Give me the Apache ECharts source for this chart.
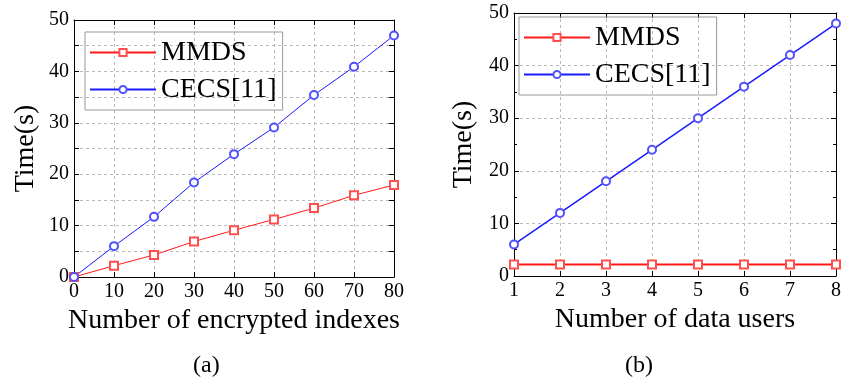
<!DOCTYPE html>
<html>
<head>
<meta charset="UTF-8">
<title>Time comparison</title>
<script src="https://cdn.jsdelivr.net/npm/echarts@6/dist/echarts.min.js"></script>
<style>
  html, body { margin: 0; padding: 0; background: #fff; }
  #main { width: 844px; height: 388px; }
</style>
</head>
<body>
<div id="main"></div>
<script type="text/javascript">
// (a) encrypted indexes
var idxX = [0, 10, 20, 30, 40, 50, 60, 70, 80];
var idxMMDS = [0, 2.2, 4.3, 6.9, 9.1, 11.2, 13.4, 15.9, 17.9];
var idxCECS = [0, 6.0, 11.7, 18.4, 23.9, 29.1, 35.4, 40.9, 47.0];
// (b) data users
var userX = [1, 2, 3, 4, 5, 6, 7, 8];
var userMMDS = [2.2, 2.2, 2.2, 2.2, 2.2, 2.2, 2.2, 2.2];
var userCECS = [6, 12, 18, 24, 30, 36, 42, 48];

var seriesNames = ['MMDS', 'CECS[11]'];
var xNames = ['Number of encrypted indexes', 'Number of data users'];
var captions = ['(a)', '(b)'];

var FONT = '"Liberation Serif", "Times New Roman", serif';
var RED = '#ff1a1a', RED_M = '#ff5050';
var BLUE = '#1a1aff', BLUE_M = '#5050ff';

function pairs(xs, ys) {
    var out = [];
    for (var i = 0; i < xs.length; i++) out.push([xs[i], ys[i]]);
    return out;
}

var myChart = echarts.init(document.getElementById('main'));

function xAx(gi, min, max, interval, mirror) {
    return {
        type: 'value', gridIndex: gi, min: min, max: max, interval: interval,
        position: mirror ? 'top' : 'bottom',
        name: mirror ? '' : xNames[gi], nameLocation: 'middle', nameGap: 28,
        nameTextStyle: { fontFamily: FONT, fontSize: 28, color: '#000' },
        axisLine: { show: true, onZero: false, lineStyle: { color: '#000', width: 1 } },
        axisTick: { show: true, inside: true, length: 5, lineStyle: { color: '#000' } },
        axisLabel: { show: !mirror, fontFamily: FONT, fontSize: 20, color: '#000', margin: 5 },
        splitLine: { show: !mirror, lineStyle: { color: '#bbb', type: [3, 3] } }
    };
}

function yAx(gi, interval, labelEvery, mirror) {
    return {
        type: 'value', gridIndex: gi, min: 0, max: 50, interval: interval,
        position: mirror ? 'right' : 'left',
        name: mirror ? '' : 'Time(s)', nameLocation: 'middle', nameGap: gi === 0 ? 34 : 36,
        nameTextStyle: { fontFamily: FONT, fontSize: 28, color: '#000' },
        axisLine: { show: true, onZero: false, lineStyle: { color: '#000', width: 1 } },
        axisTick: { show: true, inside: true, length: 5, lineStyle: { color: '#000' } },
        minorTick: { show: interval === 10, splitNumber: 2, length: 3, lineStyle: { color: '#000' } },
        axisLabel: {
            show: !mirror, fontFamily: FONT, fontSize: 20, color: '#000', margin: 5,
            formatter: function (v) { return v % labelEvery === 0 ? v : ''; }
        },
        splitLine: { show: !mirror, lineStyle: { color: '#bbb', type: [3, 3] } }
    };
}

function lineSeries(name, gi, data, color, markColor, symbol, width) {
    return {
        name: name, type: 'line', xAxisIndex: gi * 2, yAxisIndex: gi * 2,
        data: data, symbol: symbol, symbolSize: 8, showAllSymbol: true,
        lineStyle: { color: color, width: width },
        itemStyle: { color: markColor, borderWidth: 1 },
        animation: false
    };
}

function legendAt(gi, left, top) {
    return {
        data: seriesNames.map(function (n) { return { name: n }; }),
        orient: 'vertical', left: left, top: top,
        itemWidth: 66, itemHeight: 9, itemGap: 0,
        padding: [2, 6, 2, 4],
        borderColor: '#999', borderWidth: 1,
        textStyle: { fontFamily: FONT, fontSize: 28, color: '#000', lineHeight: 37 },
        selectedMode: false
    };
}

var option = {
    backgroundColor: '#fff',
    animation: false,
    grid: [
        { left: 74, right: 450, top: 20, bottom: 111 },
        { left: 514, right: 5, top: 13, bottom: 112 }
    ],
    xAxis: [
        xAx(0, 0, 80, 10, false), xAx(0, 0, 80, 10, true),
        xAx(1, 1, 8, 1, false), xAx(1, 1, 8, 1, true)
    ],
    yAxis: [
        yAx(0, 5, 10, false), yAx(0, 5, 10, true),
        yAx(1, 10, 10, false), yAx(1, 10, 10, true)
    ],
    legend: [],
    series: [
        lineSeries('MMDS', 0, pairs(idxX, idxMMDS), RED, RED_M, 'emptyRect', 1),
        lineSeries('CECS[11]', 0, pairs(idxX, idxCECS), BLUE, BLUE_M, 'emptyCircle', 1),
        lineSeries('MMDS', 1, pairs(userX, userMMDS), RED, RED_M, 'emptyRect', 2),
        lineSeries('CECS[11]', 1, pairs(userX, userCECS), BLUE, BLUE_M, 'emptyCircle', 1.5)
    ],
    graphic: [
        { type: 'text', left: 193, top: 354, style: { text: captions[0], font: '24px "Liberation Serif"', fill: '#000' } },
        { type: 'text', left: 625, top: 354, style: { text: captions[1], font: '24px "Liberation Serif"', fill: '#000' } }
    ]
};
option.legend = [legendAt(0, 85, 32), legendAt(1, 519, 17)];

myChart.setOption(option);
</script>
</body>
</html>
